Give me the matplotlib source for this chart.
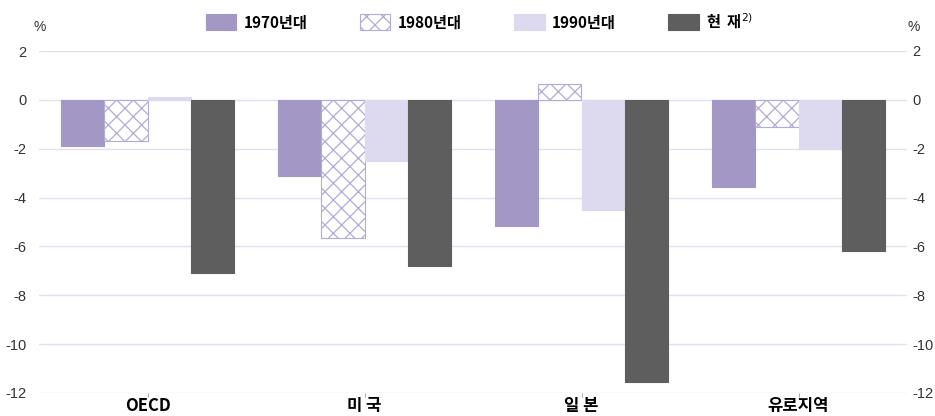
import numpy as np
import matplotlib.pyplot as plt
from matplotlib.patches import Patch

plt.rcParams['font.family'] = ['Noto Sans CJK KR', 'DejaVu Sans']
plt.rcParams['axes.unicode_minus'] = False
plt.rcParams['hatch.color'] = '#b3aad8'
plt.rcParams['hatch.linewidth'] = 0.9

# Data
regions = ['OECD', '미 국', '일 본', '유로지역']
series = ['1970년대', '1980년대', '1990년대', '현  재$^{2)}$']
v1970 = [-1.9, -3.1, -5.15, -3.55]
v1980 = [-1.7, -5.65, 0.65, -1.1]
v1990 = [0.1, -2.5, -4.5, -2.0]
vnow = [-7.1, -6.8, -11.55, -6.2]
yticks = list(range(-12, 3, 2))

colors = ['#a397c6', 'white', '#ddd9ee', '#5e5e5e']
edges = ['#a397c6', '#b3aad8', '#ddd9ee', '#5e5e5e']
hatches = [None, 'xx', None, None]

fig = plt.figure(figsize=(9.35, 4.16), dpi=100)
ax = fig.add_axes([39/935, 23/416, 868/935, 342/416])

x = np.arange(len(regions))
w = 0.2
for i, vals in enumerate([v1970, v1980, v1990, vnow]):
    ax.bar(x + (i - 1.5) * w, vals, width=w, color=colors[i],
           edgecolor=edges[i], hatch=hatches[i], linewidth=0.8, zorder=3)

ax.set_xlim(-0.5, len(regions) - 0.5)
ax.set_ylim(-12, 2)
ax.set_yticks(yticks)
ax.grid(axis='y', color='#e2dff0', linewidth=1.0, zorder=0)
for s in ax.spines.values():
    s.set_visible(False)

ax.set_xticks(x)
ax.set_xticklabels(regions, fontsize=12, fontweight='bold', color='black')
ax.tick_params(axis='x', length=3, color='#aaaaaa', pad=0)
ax.tick_params(axis='y', length=0, labelsize=10.5, labelcolor='#333333', pad=9)

ax2 = ax.twinx()
ax2.set_ylim(ax.get_ylim())
ax2.set_yticks(yticks)
ax2.tick_params(axis='y', length=0, labelsize=10.5, labelcolor='#333333', pad=4)
for s in ax2.spines.values():
    s.set_visible(False)

for a in (ax, ax2):
    for t in a.get_yticklabels():
        t.set_fontfamily('Liberation Sans')

fig.text(40/935, 1 - 27/416, '%', fontsize=10, color='#333333', ha='center', va='center',
         family='Liberation Sans')
fig.text(914/935, 1 - 27/416, '%', fontsize=10, color='#333333', ha='center', va='center',
         family='Liberation Sans')

handles = [Patch(facecolor=colors[i], edgecolor=edges[i], hatch=hatches[i], linewidth=0.8)
           for i in range(4)]
fig.legend(handles, series, loc='center', bbox_to_anchor=(0.513, 1 - 21/416), ncol=4,
           frameon=False, handlelength=2.0, handleheight=1.2,
           columnspacing=3.4, handletextpad=0.5,
           prop={'weight': 'bold', 'size': 11})

fig.savefig('out.png', dpi=100)
